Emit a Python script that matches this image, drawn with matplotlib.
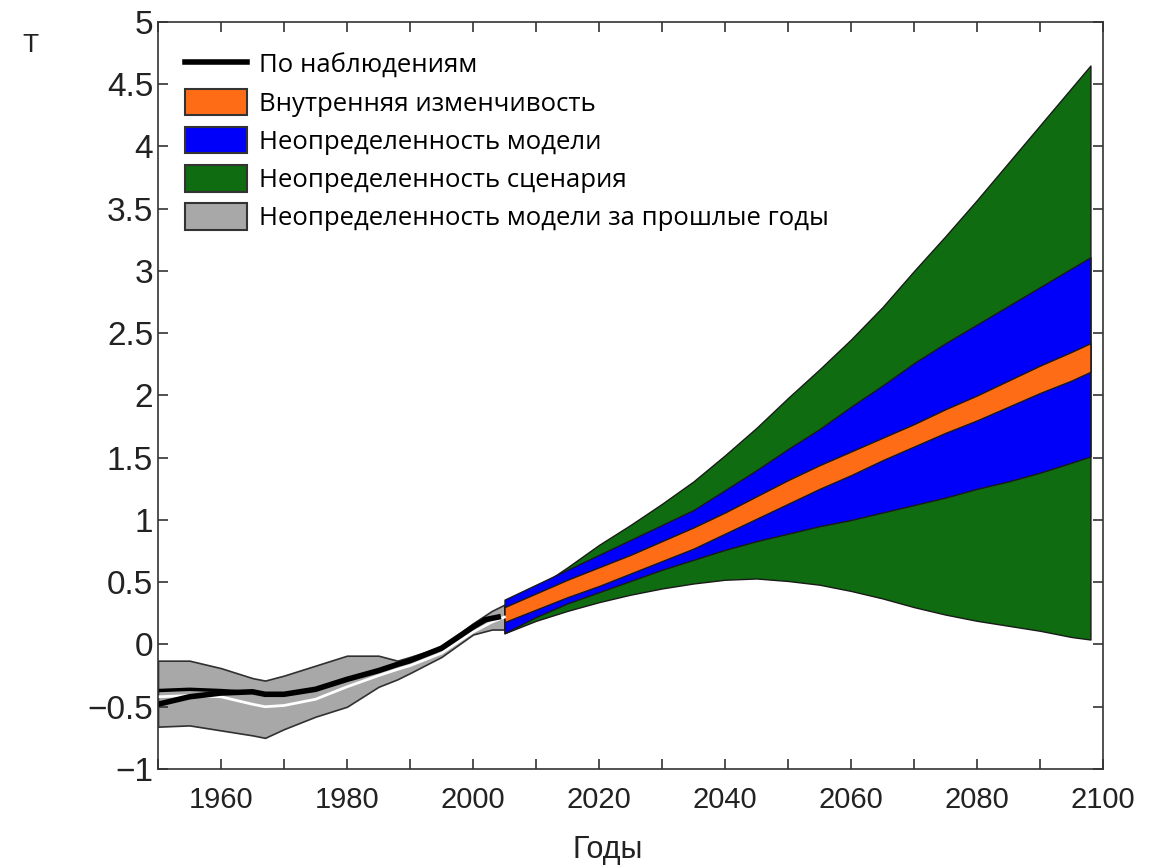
import matplotlib.pyplot as plt
from matplotlib.patches import Patch
from matplotlib.lines import Line2D
from matplotlib.ticker import MultipleLocator

# Historical period
hist_years = [1950, 1955, 1960, 1965, 1967, 1970, 1975, 1980, 1985, 1988, 1990, 1995, 2000, 2003, 2005]
hist_top = [-0.13, -0.13, -0.19, -0.27, -0.29, -0.25, -0.17, -0.09, -0.09, -0.13, -0.10, -0.02, 0.17, 0.27, 0.32]
hist_bottom = [-0.66, -0.65, -0.69, -0.73, -0.75, -0.68, -0.58, -0.50, -0.34, -0.28, -0.23, -0.10, 0.08, 0.12, 0.12]
model_mean = [-0.42, -0.41, -0.42, -0.48, -0.50, -0.49, -0.44, -0.34, -0.25, -0.20, -0.17, -0.07, 0.10, 0.18, 0.22]

obs_years = [1950, 1955, 1960, 1965, 1967, 1970, 1975, 1980, 1985, 1988, 1990, 1995, 2000, 2002, 2004]
obs = [-0.48, -0.42, -0.39, -0.38, -0.40, -0.40, -0.36, -0.28, -0.21, -0.16, -0.13, -0.03, 0.14, 0.20, 0.22]
obs2_years = [1950, 1955, 1960, 1963]
obs2 = [-0.37, -0.36, -0.37, -0.38]

# Projections
proj_years = [2005, 2010, 2015, 2020, 2025, 2030, 2035, 2040, 2045, 2050,
              2055, 2060, 2065, 2070, 2075, 2080, 2085, 2090, 2095, 2098]
green_top = [0.30, 0.45, 0.62, 0.80, 0.96, 1.13, 1.31, 1.52, 1.74, 1.98,
             2.21, 2.45, 2.71, 3.00, 3.28, 3.57, 3.87, 4.17, 4.47, 4.65]
green_bottom = [0.09, 0.19, 0.27, 0.34, 0.40, 0.45, 0.49, 0.52, 0.53, 0.51,
                0.48, 0.43, 0.37, 0.30, 0.24, 0.19, 0.15, 0.11, 0.06, 0.04]
blue_top = [0.36, 0.48, 0.60, 0.72, 0.84, 0.96, 1.08, 1.24, 1.40, 1.57,
            1.73, 1.91, 2.08, 2.26, 2.42, 2.57, 2.72, 2.87, 3.02, 3.11]
blue_bottom = [0.09, 0.22, 0.33, 0.42, 0.51, 0.60, 0.68, 0.76, 0.83, 0.89,
               0.95, 1.00, 1.06, 1.12, 1.18, 1.25, 1.31, 1.38, 1.46, 1.51]
orange_top = [0.30, 0.41, 0.52, 0.62, 0.72, 0.83, 0.94, 1.06, 1.19, 1.32,
              1.44, 1.55, 1.66, 1.77, 1.89, 2.00, 2.12, 2.24, 2.35, 2.42]
orange_bottom = [0.18, 0.28, 0.38, 0.47, 0.57, 0.67, 0.77, 0.89, 1.01, 1.13,
                 1.25, 1.36, 1.48, 1.59, 1.70, 1.80, 1.91, 2.02, 2.12, 2.19]

labels = ["По наблюдениям", "Внутренняя изменчивость", "Неопределенность модели",
          "Неопределенность сценария", "Неопределенность модели за прошлые годы"]

c_green = '#0f6c10'
c_blue = '#0000fa'
c_orange = '#ff6c16'
c_gray = '#a8a8a8'

fig = plt.figure(figsize=(11.49, 8.65), dpi=100)
ax = fig.add_axes([0.1375, 0.111, 0.8225, 0.8636])

# Historical band
ax.fill_between(hist_years, hist_bottom, hist_top, facecolor=c_gray, edgecolor='#303030', linewidth=1.2)
ax.plot(hist_years, model_mean, color='white', linewidth=2)
ax.plot(obs2_years, obs2, color='black', linewidth=2.5)
ax.plot(obs_years, obs, color='black', linewidth=4)

# Projection bands
ax.fill_between(proj_years, green_bottom, green_top, facecolor=c_green, edgecolor='#1a1a1a', linewidth=1)
ax.fill_between(proj_years, blue_bottom, blue_top, facecolor=c_blue, edgecolor='#1a1a1a', linewidth=1)
ax.fill_between(proj_years, orange_bottom, orange_top, facecolor=c_orange, edgecolor='#1a1a1a', linewidth=1)

ax.set_xlim(1950, 2100)
ax.set_ylim(-1, 5)
ax.xaxis.set_major_locator(MultipleLocator(20))
ax.xaxis.set_minor_locator(MultipleLocator(10))
ax.yaxis.set_major_locator(MultipleLocator(0.5))
ax.tick_params(which='both', direction='in', top=True, right=True, length=7, width=1.2, colors='#333333')
ax.tick_params(axis='x', which='both', pad=12)
ax.yaxis.set_major_formatter(plt.FuncFormatter(lambda v, p: ('%g' % v).replace('-', '\u2212')))

for lab in ax.get_xticklabels():
    lab.set_fontfamily('Liberation Sans')
    lab.set_fontsize(21)
    lab.set_color('#222222')
for lab in ax.get_yticklabels():
    lab.set_fontfamily('Liberation Sans')
    lab.set_fontsize(24)
    lab.set_color('#222222')

for sp in ax.spines.values():
    sp.set_linewidth(1.2)
    sp.set_color('#333333')

fig.text(608 / 1149, 1 - 850 / 865, "Годы", ha='center', va='center', fontsize=22,
         family='Liberation Sans', color='#222222')
fig.text(30 / 1149, 1 - 45 / 865, "T", ha='center', va='center', fontsize=19,
         family='Liberation Sans', color='#222222')

handles = [
    Line2D([0], [0], color='black', linewidth=4),
    Patch(facecolor=c_orange, edgecolor='#333333', linewidth=1.5),
    Patch(facecolor=c_blue, edgecolor='#333333', linewidth=1.5),
    Patch(facecolor=c_green, edgecolor='#333333', linewidth=1.5),
    Patch(facecolor=c_gray, edgecolor='#333333', linewidth=1.5),
]
ax.legend(handles, labels, loc='upper left', bbox_to_anchor=(0.018, 0.975), borderaxespad=0,
          frameon=False, prop={'family': 'Open Sans', 'size': 18.5},
          handlelength=2.4, handleheight=1.2, labelspacing=0.4, handletextpad=0.45)

fig.savefig('out.png', dpi=100)
